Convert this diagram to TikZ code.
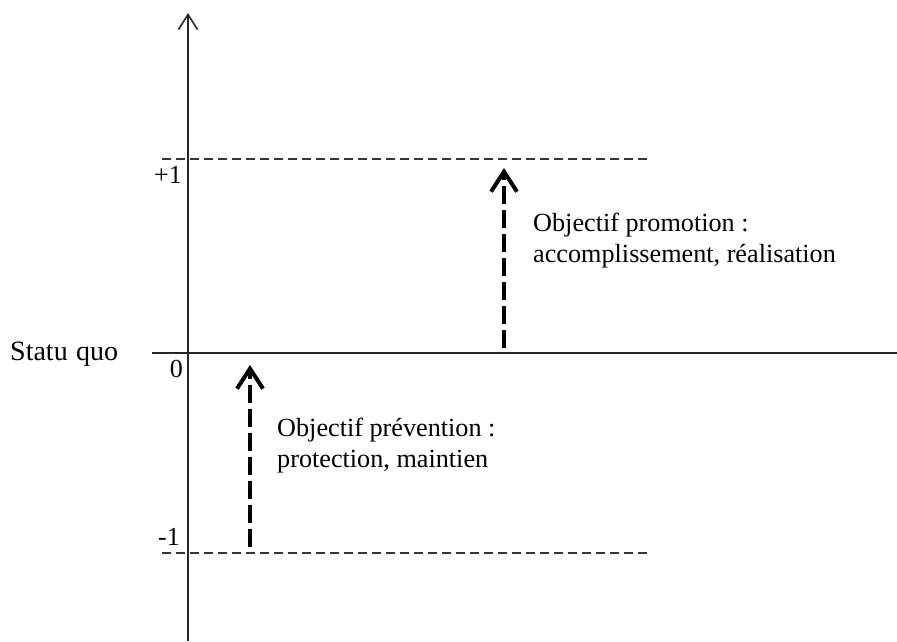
\documentclass[tikz,border=0pt]{standalone}
\usepackage{fontspec}
\setmainfont{Liberation Serif}
\usetikzlibrary{arrows.meta}
\begin{document}
\begin{tikzpicture}[x=1pt,y=-1pt,
  axis/.style={line width=1.6pt,black!85},
  level/.style={line width=1.6pt,black!80,dash pattern=on 9pt off 5pt},
  goal/.style={line width=4pt,black,dash pattern=on 18pt off 6pt,
    -{Straight Barb[length=20pt,width=26pt,line width=4pt]}},
  lbl/.style={inner sep=0pt,font=\fontsize{26}{31}\selectfont},
  txt/.style={inner sep=0pt,align=left,font=\fontsize{26.2}{31}\selectfont}]
\useasboundingbox (0,0) rectangle (897,641);

% axes
\coordinate (ybot) at (188,641);
\coordinate (ytop) at (188,13);
\coordinate (xl) at (152,353);
\coordinate (xr) at (897,353);
\draw[axis,-{Straight Barb[length=15pt,width=19pt,line width=1.6pt]}] (ybot) -- (ytop);
\draw[axis] (xl) -- (xr);

% reference levels
\coordinate (p1l) at (162,159);
\coordinate (p1r) at (650,159);
\coordinate (m1l) at (162,553);
\coordinate (m1r) at (650,553);
\draw[level] (p1l) -- (p1r);
\draw[level] (m1l) -- (m1r);

% level labels
\node[lbl,anchor=base east] (lp1) at (182,183) {+1};
\node[lbl,anchor=base east] (l0) at (183,377) {0};
\node[lbl,anchor=base east] (lm1) at (180,545) {-1};
\node[inner sep=0pt,anchor=base west,font=\fontsize{28}{31}\selectfont] (sq) at (10,360)
  {Statu\hspace{0.3em}quo};

% goal arrows
\coordinate (a1s) at (504,348);
\coordinate (a1e) at (504,168);
\coordinate (a2s) at (250,547);
\coordinate (a2e) at (250,365);
\draw[goal] (a1s) -- (a1e);
\draw[goal] (a2s) -- (a2e);

% goal descriptions
\node[txt,anchor=base west] (promo) at (533,262)
  {Objectif promotion :\\accomplissement, réalisation};
\node[txt,anchor=base west] (prev) at (277,467)
  {Objectif prévention :\\protection, maintien};
\end{tikzpicture}
\end{document}
